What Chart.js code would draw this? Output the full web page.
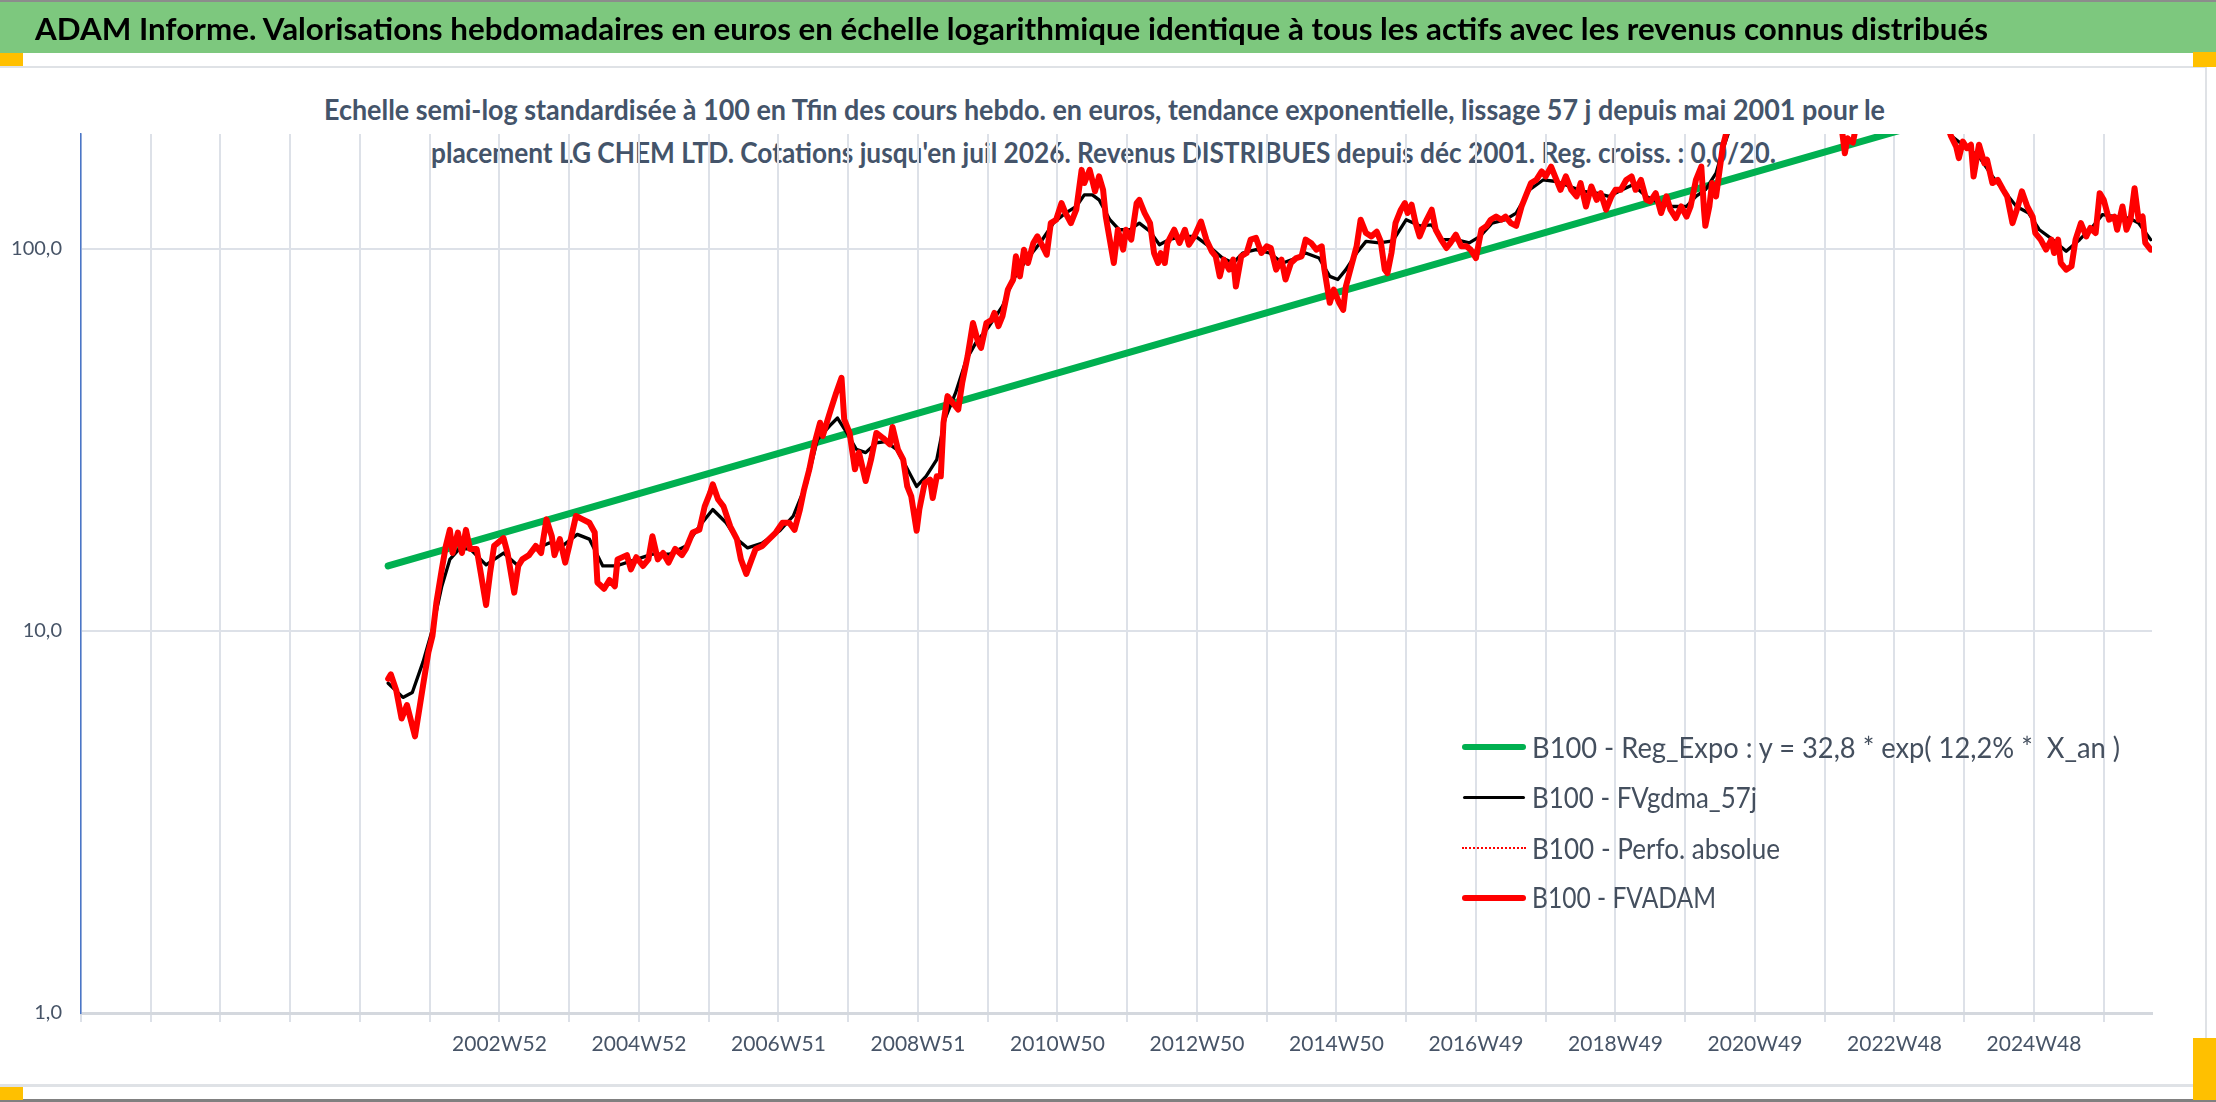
<!DOCTYPE html>
<html lang="fr">
<head>
<meta charset="utf-8">
<title>ADAM Informe - LG CHEM LTD</title>
<script src="https://cdn.jsdelivr.net/npm/chart.js@4.4.1/dist/chart.umd.min.js"></script>
<style>
  html, body { margin: 0; padding: 0; background: #ffffff; }
  body { width: 2216px; height: 1102px; position: relative; overflow: hidden; font-family: Lato, "Open Sans", sans-serif; }
  .abs { position: absolute; }
  .txt { position: absolute; white-space: pre; line-height: 1; transform-origin: left top; }
  #chartCanvas { position: absolute; left: 0; top: 0; z-index: 2; }
  #title { font-weight: 700; color: #000000; font-size: 30px; z-index: 3; }
  .sub { font-weight: 700; color: #44546a; font-size: 28px; z-index: 1; }
  .leg { font-weight: 400; color: #444f5e; font-size: 29px; z-index: 3; }
  .orange { position: absolute; background: #ffc000; z-index: 4; }
</style>
</head>
<body>
<div class="abs" style="left:0;top:0;width:2216px;height:2px;background:#8c8c8c"></div>
<div class="abs" style="left:0;top:2px;width:2216px;height:51px;background:#7dc87e"></div>
<div id="title" class="txt">ADAM Informe. Valorisations hebdomadaires en euros en échelle logarithmique identique à tous les actifs avec les revenus connus distribués</div>

<div class="abs" style="left:0;top:66px;width:2207px;height:2px;background:#dfe2e6"></div>
<div class="abs" style="left:2205px;top:66px;width:2px;height:1021px;background:#dfe2e6"></div>
<div class="abs" style="left:0;top:1084px;width:2207px;height:3px;background:#dfe2e6"></div>
<div class="abs" style="left:0;top:1099px;width:2216px;height:3px;background:#808080"></div>
<div class="orange" style="left:0;top:53px;width:23px;height:13px"></div>
<div class="orange" style="left:2193px;top:52px;width:23px;height:15px"></div>
<div class="orange" style="left:0;top:1087px;width:23px;height:13px"></div>
<div class="orange" style="left:2193px;top:1038px;width:23px;height:62px"></div>

<div id="sub1" class="txt sub">Echelle semi-log standardisée à 100 en Tfin des cours hebdo. en euros, tendance exponentielle, lissage 57 j depuis mai 2001 pour le</div>
<div id="sub2" class="txt sub">placement LG CHEM LTD. Cotations jusqu'en juil 2026. Revenus DISTRIBUES depuis déc 2001. Reg. croiss. : 0,0/20.</div>

<canvas id="chartCanvas" width="2216" height="1102"></canvas>

<div class="abs" style="z-index:3;left:1462px;top:744px;width:64px;height:6px;border-radius:3px;background:#00b050"></div>
<div class="abs" style="z-index:3;left:1463px;top:795.5px;width:62px;height:3.5px;border-radius:2px;background:#000000"></div>
<div class="abs" style="z-index:3;left:1462px;top:847px;width:64px;height:0;border-top:2.5px dotted #ff0000"></div>
<div class="abs" style="z-index:3;left:1462px;top:894.7px;width:64px;height:6px;border-radius:3px;background:#ff0000"></div>
<div id="leg1" class="txt leg">B100 - Reg_Expo : y = 32,8 * exp( 12,2% *  X_an )</div>
<div id="leg2" class="txt leg">B100 - FVgdma_57j</div>
<div id="leg3" class="txt leg">B100 - Perfo. absolue</div>
<div id="leg4" class="txt leg">B100 - FVADAM</div>

<script>
// ---------------- DATA (week index since start of the category axis) ----------------
const gridWeeks = [0,52,104,156,208,260,312,364,416,468,520,572,624,676,728,780,832,884,936,988,1040,1092,1144,1196,1248,1300,1352,1404,1456,1508];
const tickWeeks = [312,416,520,624,728,832,936,1040,1144,1248,1352,1456];
const tickLabels = ['2002W52','2004W52','2006W51','2008W51','2010W50','2012W50','2014W50','2016W49','2018W49','2020W49','2022W48','2024W48'];
const yTickValues = [1, 10, 100];

const regWeeks = [229, 1543];
const regValues = [14.8, 316];

const fvadamWeeks = [229,231,235,239,243,249,253,255,259,262,265,269,272,275,277,281,284,287,290,295,298,302,305,308,315,318,323,326,329,334,339,343,347,351,353,357,361,364,369,374,379,383,385,390,394,398,400,407,410,414,419,423,426,430,434,438,443,448,451,456,461,465,469,471,475,479,484,489,492,496,500,503,508,513,518,523,528,532,536,539,543,547,551,553,556,559,563,567,569,573,577,580,585,589,593,598,603,605,609,613,616,619,623,625,629,633,635,638,641,643,646,650,654,657,661,665,669,671,675,679,681,684,687,691,695,697,700,703,706,710,713,717,720,723,727,731,734,738,742,746,748,752,756,759,762,764,767,770,773,777,779,783,787,789,793,797,800,803,805,808,810,815,819,823,826,830,835,839,843,846,849,852,856,859,861,865,869,872,876,880,884,887,891,895,898,902,906,910,913,917,921,925,927,931,934,938,941,943,947,951,954,958,962,966,969,972,974,977,980,984,987,989,992,995,998,1002,1007,1010,1014,1018,1021,1025,1029,1033,1036,1040,1044,1048,1051,1055,1059,1062,1066,1070,1074,1077,1081,1085,1089,1092,1096,1100,1103,1107,1111,1115,1118,1122,1126,1130,1133,1137,1141,1144,1148,1152,1156,1159,1163,1167,1170,1174,1178,1182,1185,1189,1193,1197,1200,1204,1208,1210,1211,1214,1216,1219,1221,1224,1228,1233,1251,1281,1303,1311,1313,1315,1317,1318,1321,1324,1333,1356,1378,1389,1394,1398,1400,1403,1406,1409,1411,1415,1419,1421,1425,1429,1433,1436,1440,1444,1447,1451,1455,1457,1461,1465,1469,1471,1474,1476,1480,1484,1487,1491,1495,1498,1502,1505,1508,1512,1516,1518,1522,1525,1528,1531,1534,1537,1539,1543];
const fvadamValues = [7.5,7.7,7.0,5.9,6.4,5.3,6.5,7.2,8.8,9.7,11.9,14.5,16.7,18.4,16.0,18.1,16.0,18.4,16.4,16.4,14.2,11.7,14.2,16.7,17.5,16.0,12.6,14.8,15.4,15.8,16.7,16.0,19.6,17.7,15.8,17.4,15.1,16.7,20.0,19.6,19.2,18.1,13.4,12.9,13.6,13.1,15.4,15.8,14.5,15.6,14.8,15.4,17.7,15.4,16.0,15.1,16.4,15.8,16.4,18.1,18.4,21.2,23.0,24.2,22.1,21.2,18.8,17.4,15.4,14.1,15.4,16.4,16.7,17.4,18.1,19.2,19.2,18.4,20.8,23.4,26.5,31.1,35.1,32.4,35.1,38.0,42.0,46.0,35.8,33.0,26.5,29.3,24.7,28.1,33.0,32.0,30.8,34.2,29.9,28.1,23.9,22.5,18.3,20.8,24.4,24.9,22.3,25.4,25.4,35.1,41.2,39.5,38.0,44.7,52.4,64.0,56.7,55.1,64.0,65.3,68.0,62.8,66.7,78.3,83.2,95.7,84.8,99.6,91.9,103.7,107.9,101.6,96.6,116.9,119.3,131.9,124.2,116.9,126.7,161.1,148.8,161.1,141.6,154.9,142.9,121.6,105.8,91.9,112.3,99.6,112.3,105.8,131.9,134.5,124.2,116.9,97.6,91.9,97.6,91.9,103.7,112.3,103.7,112.3,102.6,107.9,118.0,105.8,98.6,95.7,84.8,93.8,88.3,93.8,79.8,95.7,97.6,105.8,106.9,97.6,101.6,100.6,88.3,93.8,83.2,91.9,94.7,95.7,105.8,103.7,99.6,101.6,88.3,72.3,78.3,72.3,69.3,79.8,90.1,101.6,119.3,110.1,107.9,111.0,104.7,88.3,86.5,97.6,116.9,126.7,131.9,124.2,130.6,116.9,107.9,116.9,126.7,112.3,105.8,100.6,103.7,109.0,101.6,101.6,99.6,94.7,112.3,115.0,119.3,121.6,119.3,121.6,116.9,115.0,129.2,137.3,148.8,151.6,159.6,154.9,164.3,151.6,142.9,154.9,142.9,137.3,148.8,129.2,145.8,134.5,140.0,126.7,137.3,142.9,142.9,151.6,154.9,142.9,151.6,134.5,133.2,140.0,124.2,137.3,126.7,120.5,129.2,121.6,129.2,151.6,164.3,126.7,115.0,129.2,148.8,137.3,154.9,185.4,210,240,270,290,250,215,203,178,195,193,190,215,260,300,270,225,198,185.4,172.9,191.1,183.7,187.5,154.9,187.5,167.8,171.2,148.8,151.6,142.9,137.3,116.9,129.2,141.6,129.2,121.6,110.1,105.8,99.6,105.8,97.6,105.8,91.9,88.3,90.1,105.8,116.9,107.9,113.5,110.1,140.0,134.5,119.3,121.6,112.3,129.2,112.3,119.3,144.3,119.3,121.6,103.7,99.6];

const gdmaWeeks = [229,240,247,255,262,269,275,282,290,302,315,325,339,349,359,370,379,389,399,414,426,439,451,461,471,481,489,497,508,521,531,541,549,558,564,571,578,585,593,600,608,615,623,630,638,644,652,660,667,677,687,695,705,715,725,734,742,748,754,759,767,774,782,789,797,804,811,821,831,841,851,859,866,876,886,896,906,913,923,931,937,943,951,958,968,978,988,998,1007,1015,1025,1035,1043,1052,1062,1070,1080,1090,1100,1110,1120,1130,1139,1149,1157,1167,1177,1187,1197,1204,1211,1219,1224,1229,1251,1281,1318,1356,1385,1395,1405,1415,1425,1435,1443,1452,1460,1470,1480,1490,1500,1507,1517,1527,1534,1543];
const gdmaValues = [7.3,6.7,6.9,8.3,10.1,13.1,15.4,16.4,16.4,14.9,16.0,14.9,16.4,17.0,16.7,17.9,17.4,14.8,14.8,15.4,15.9,15.9,16.7,18.8,20.8,19.2,17.4,16.5,17.0,18.3,20.0,24.4,31.7,34.4,36.1,33.0,29.9,29.3,31.1,31.3,29.9,27.0,23.9,25.4,28.1,35.8,42.0,51.3,56.7,62.8,70.8,83.2,93.8,103.7,116.9,124.2,129.2,138.6,138.6,134.5,119.3,112.3,112.3,116.9,111.2,102.6,105.8,107.9,107.9,101.6,94.7,91.9,97.6,99.6,97.6,91.9,94.7,97.6,94.7,84.8,83.2,88.3,97.6,104.7,103.7,105.0,119.3,115.0,115.6,105.8,105.8,103.7,107.9,116.9,119.3,124.2,142.9,151.6,150.2,145.8,141.6,140.0,137.3,142.9,147.2,137.3,131.9,129.2,129.2,137.3,142.9,158.0,182,205,240,260,240,250,215,197,185,174.6,154.9,140.0,129.2,124.2,112.3,105.8,98.6,105.8,114.6,123,121.6,120.5,116.9,105.8];

// ---------------- helpers ----------------
function toPoints(xs, ys) { return xs.map((x, i) => ({ x: x, y: ys[i] })); }

function hasFont(name) {
  const c = document.createElement('canvas').getContext('2d');
  const s = '2002W52 abcdefghij ABCDEF';
  c.font = '40px monospace'; const a = c.measureText(s).width;
  c.font = '40px "' + name + '", monospace'; const b = c.measureText(s).width;
  c.font = '40px serif'; const a2 = c.measureText(s).width;
  c.font = '40px "' + name + '", serif'; const b2 = c.measureText(s).width;
  return Math.abs(a - b) > 0.5 || Math.abs(a2 - b2) > 0.5;
}

function measure(text, size, family) {
  const c = document.createElement('canvas').getContext('2d');
  c.font = size + 'px ' + family;
  return c.measureText(text).width;
}

function placeFit(id, left, capCenterY, targetWidth) {
  const el = document.getElementById(id);
  const size = parseFloat(getComputedStyle(el).fontSize);
  el.style.left = left + 'px';
  el.style.top = (capCenterY - 0.5255 * size) + 'px';
  el.style.transform = 'none';
  const w = el.getBoundingClientRect().width;
  el.style.transform = 'scaleX(' + (targetWidth / w) + ')';
}

function layoutTexts() {
  placeFit('title', 35, 29.2, 1953);
  placeFit('sub1', 324, 110, 1561);
  placeFit('sub2', 431, 153, 1345);
  placeFit('leg1', 1532, 747, 588);
  placeFit('leg2', 1532, 797, 225);
  placeFit('leg3', 1532, 848, 248);
  placeFit('leg4', 1532, 897.7, 184);
}

function buildChart() {
  let tickFamily = 'Lato, sans-serif';
  if (hasFont('Liberation Sans Narrow')) tickFamily = '"Liberation Sans Narrow", Lato, sans-serif';
  const clamp = (v, lo, hi) => Math.max(lo, Math.min(hi, v));
  const xSize = clamp(100 * 85 / measure('2002W52', 100, tickFamily), 21, 25);
  const ySize = clamp(100 * 47.7 / measure('100,0', 100, tickFamily), 20, 23.5);

  const fvadam = toPoints(fvadamWeeks, fvadamValues);
  const gdma = toPoints(gdmaWeeks, gdmaValues);
  const reg = toPoints(regWeeks, regValues);

  new Chart(document.getElementById('chartCanvas'), {
    type: 'line',
    data: {
      datasets: [
        { label: 'B100 - FVADAM', data: fvadam, borderColor: '#ff0000', borderWidth: 6, order: 0, clip: 0 },
        { label: 'B100 - Perfo. absolue', data: fvadam, borderColor: '#ff0000', borderWidth: 2, borderDash: [2, 3], order: 1, clip: 0 },
        { label: 'B100 - FVgdma_57j', data: gdma, borderColor: '#000000', borderWidth: 3.3, order: 2, clip: 0 },
        { label: 'B100 - Reg_Expo : y = 32,8 * exp( 12,2% *  X_an )', data: reg, borderColor: '#00b050', borderWidth: 7, order: 3, clip: 0 }
      ]
    },
    options: {
      responsive: false,
      animation: false,
      devicePixelRatio: 1,
      layout: { padding: { left: 0, right: 64, top: 134, bottom: 0 } },
      elements: {
        point: { radius: 0, hoverRadius: 0 },
        line: { tension: 0, fill: false, borderJoinStyle: 'round', borderCapStyle: 'round' }
      },
      plugins: { legend: { display: false }, tooltip: { enabled: false }, title: { display: false } },
      events: [],
      scales: {
        x: {
          type: 'linear',
          min: 0,
          max: 1544,
          afterBuildTicks: (s) => { s.ticks = gridWeeks.map(v => ({ value: v })); },
          afterFit: (s) => { s.height = 89; },
          grid: { color: '#dde1e8', lineWidth: 2, drawTicks: true, tickLength: 9, tickColor: '#dde1e8' },
          border: { color: '#d4d8de', width: 3 },
          ticks: {
            autoSkip: false, maxRotation: 0, minRotation: 0, padding: 10,
            color: '#475467',
            font: { family: tickFamily, size: xSize },
            callback: (v) => { const i = tickWeeks.indexOf(v); return i >= 0 ? tickLabels[i] : ''; }
          }
        },
        y: {
          type: 'logarithmic',
          min: 1,
          max: 200,
          afterBuildTicks: (s) => { s.ticks = yTickValues.map(v => ({ value: v })); },
          afterFit: (s) => { s.width = 81; },
          grid: { color: '#dde1e8', lineWidth: 2, drawTicks: false },
          border: { color: '#4a76c8', width: 1.5 },
          ticks: {
            padding: 19,
            color: '#475467',
            font: { family: tickFamily, size: ySize },
            callback: (v) => Number(v).toFixed(1).replace('.', ',')
          }
        }
      }
    }
  });
}

function init() { layoutTexts(); buildChart(); }
if (document.fonts && document.fonts.ready) { document.fonts.ready.then(init); } else { window.addEventListener('load', init); }
</script>
</body>
</html>
